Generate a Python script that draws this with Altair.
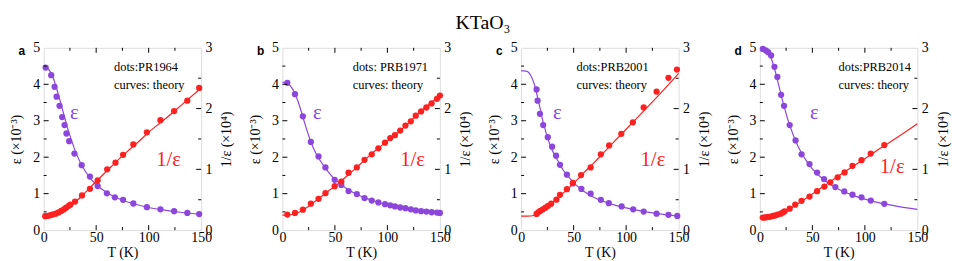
import altair as alt
import pandas as pd

PURPLE = "#8c46dc"
RED = "#ff2020"
W, H = 159, 184

# ---------------- data ----------------
# common grid for theory curves
curve_T = [0, 3, 6, 9, 12, 15, 18, 21, 24, 27, 30, 35, 40, 45, 50, 60, 70, 80, 90, 100, 115, 130, 150]

# panel a : PR1964
a_eps_dot_T = [1.9, 7.2, 10.4, 12.3, 15.1, 17.6, 19.9, 21.7, 24.3, 29.3, 36.2, 44.1, 51.4, 60.2, 67.8, 75.6, 85.4, 98.3, 111.2, 124.2, 136.8, 148.1]
a_eps_dot = [4.46, 4.25, 3.93, 3.66, 3.41, 3.10, 2.88, 2.65, 2.44, 2.10, 1.78, 1.47, 1.21, 1.01, 0.90, 0.83, 0.73, 0.63, 0.57, 0.52, 0.47, 0.44]
a_inv_dot_T = [1.5, 4.1, 6.6, 9.1, 11.6, 14.2, 16.7, 19.2, 21.4, 23.9, 25.5, 29.9, 36.5, 44.1, 51.4, 60.5, 68.4, 75.6, 85.4, 98.3, 111.2, 124.2, 136.8, 148.1]
a_inv_dot = [0.23, 0.235, 0.245, 0.26, 0.27, 0.29, 0.315, 0.34, 0.37, 0.40, 0.42, 0.47, 0.57, 0.68, 0.82, 1.00, 1.11, 1.24, 1.41, 1.61, 1.81, 1.96, 2.13, 2.34]
a_eps_curve = [4.47, 4.45, 4.36, 4.18, 3.92, 3.62, 3.30, 2.98, 2.68, 2.42, 2.18, 1.85, 1.60, 1.40, 1.25, 1.03, 0.88, 0.77, 0.69, 0.62, 0.55, 0.49, 0.43]
a_inv_curve = [0.224, 0.225, 0.229, 0.239, 0.255, 0.276, 0.303, 0.336, 0.373, 0.413, 0.459, 0.54, 0.625, 0.714, 0.80, 0.97, 1.14, 1.30, 1.45, 1.61, 1.82, 2.04, 2.34]

# panel b : PRB1971
b_dot_T = [4.7, 12.0, 19.5, 27.1, 34.4, 41.0, 49.8, 56.1, 63.0, 70.9, 78.2, 85.1, 91.4, 97.7, 102.7, 107.2, 112.2, 117.2, 122.3, 127.0, 132.1, 137.1, 142.1, 147.2, 150.0]
b_eps_dot = [4.04, 3.73, 3.12, 2.42, 2.02, 1.72, 1.38, 1.24, 1.07, 0.99, 0.88, 0.81, 0.76, 0.71, 0.68, 0.65, 0.62, 0.60, 0.57, 0.54, 0.52, 0.51, 0.49, 0.48, 0.47]
b_inv_dot = [0.255, 0.282, 0.336, 0.434, 0.515, 0.608, 0.722, 0.798, 0.944, 1.031, 1.156, 1.248, 1.346, 1.438, 1.514, 1.563, 1.639, 1.720, 1.791, 1.883, 1.953, 2.018, 2.084, 2.160, 2.214]
b_eps_curve = [4.05, 4.05, 4.00, 3.90, 3.75, 3.52, 3.25, 2.96, 2.68, 2.43, 2.22, 1.95, 1.74, 1.55, 1.39, 1.16, 0.99, 0.87, 0.77, 0.70, 0.61, 0.54, 0.47]
b_inv_curve = [0.247, 0.247, 0.25, 0.257, 0.275, 0.29, 0.315, 0.345, 0.38, 0.42, 0.46, 0.525, 0.59, 0.66, 0.72, 0.87, 1.02, 1.18, 1.33, 1.47, 1.68, 1.93, 2.21]

# panel c : PRB2001
c_dot_T = [14.7, 15.7, 17.9, 21.0, 25.4, 29.5, 33.3, 37.0, 43.6, 49.3, 57.4, 66.2, 75.9, 83.5, 95.7, 106.7, 116.7, 129.0, 140.3, 148.7]
c_eps_dot = [3.86, 3.55, 3.19, 2.88, 2.55, 2.29, 2.04, 1.79, 1.52, 1.28, 1.13, 1.00, 0.83, 0.74, 0.65, 0.57, 0.51, 0.45, 0.42, 0.39]
c_inv_dot_T = [14.7, 16.3, 18.2, 20.7, 23.2, 25.7, 28.6, 33.6, 37.0, 43.6, 49.3, 57.1, 66.2, 75.9, 83.8, 95.4, 106.4, 116.7, 129.0, 140.3, 148.4]
c_inv_dot = [0.266, 0.293, 0.315, 0.342, 0.369, 0.40, 0.434, 0.50, 0.58, 0.673, 0.776, 0.906, 1.031, 1.248, 1.394, 1.584, 1.774, 2.018, 2.279, 2.507, 2.642]
c_curve_T = [0, 3, 6, 9, 12, 14, 16, 18, 20, 22, 25, 28, 32, 36, 40, 45, 50, 60, 70, 80, 90, 100, 115, 130, 150]
c_eps_curve = [4.37, 4.37, 4.35, 4.25, 4.05, 3.85, 3.60, 3.35, 3.08, 2.85, 2.55, 2.30, 2.05, 1.85, 1.65, 1.47, 1.30, 1.06, 0.89, 0.77, 0.68, 0.61, 0.52, 0.45, 0.38]
c_inv_curve = [0.23, 0.23, 0.23, 0.232, 0.24, 0.255, 0.275, 0.30, 0.325, 0.35, 0.39, 0.43, 0.49, 0.55, 0.61, 0.69, 0.77, 0.95, 1.12, 1.30, 1.48, 1.66, 1.93, 2.20, 2.58]

# panel d : PRB2014
d_eps_dot_T = [2.8, 5.7, 7.9, 10.7, 13.9, 16.7, 20.2, 23.0, 28.4, 34.0, 39.7, 47.3, 54.5, 61.1, 71.9, 80.4, 88.2, 96.8, 105.6, 118.5]
d_eps_dot = [4.97, 4.93, 4.88, 4.79, 4.48, 4.20, 3.71, 3.41, 2.88, 2.46, 2.08, 1.81, 1.58, 1.40, 1.18, 1.06, 0.97, 0.90, 0.81, 0.72]
d_inv_dot_T = [2.8, 4.7, 6.3, 8.2, 10.4, 12.6, 14.8, 17.0, 19.9, 22.1, 23.6, 28.4, 33.7, 39.7, 47.3, 54.5, 61.5, 67.1, 74.1, 80.7, 88.2, 96.8, 105.6, 118.5]
d_inv_dot = [0.206, 0.206, 0.212, 0.217, 0.222, 0.233, 0.244, 0.255, 0.271, 0.293, 0.309, 0.353, 0.418, 0.483, 0.553, 0.640, 0.716, 0.787, 0.868, 0.950, 1.058, 1.150, 1.259, 1.40]
d_eps_curve = [5.0, 4.98, 4.93, 4.83, 4.62, 4.32, 3.97, 3.62, 3.30, 3.00, 2.75, 2.38, 2.10, 1.87, 1.68, 1.40, 1.20, 1.05, 0.94, 0.85, 0.74, 0.66, 0.57]
d_inv_curve = [0.20, 0.20, 0.203, 0.207, 0.217, 0.232, 0.252, 0.276, 0.303, 0.333, 0.364, 0.42, 0.476, 0.535, 0.595, 0.714, 0.833, 0.952, 1.064, 1.176, 1.35, 1.515, 1.75]

letters = ["a", "b", "c", "d"]
sources = ["dots:PR1964", "dots: PRB1971", "dots:PRB2001", "dots:PRB2014"]
note2 = "curves: theory"
note_T = [67, 67, 52.7, 75]
note_e = [4.48, 3.98]
eps_lbl_T = [29.3, 33.4, 34.5, 52]
eps_lbl_e = [3.2, 3.2, 3.2, 3.2]
inv_lbl_T = [119, 124, 125.5, 126]
inv_lbl_e = [1.92, 1.92, 1.92, 1.72]

# tick positions
x_major = [50, 100]
x_minor = [25, 75, 125]
yl_major = [1, 2, 3, 4]
yl_minor = [0.5, 1.5, 2.5, 3.5, 4.5]
yr_major = [1, 2]
yr_minor = [0.5, 1.5, 2.5]

SERIF = "Liberation Serif, Times New Roman, serif"
SANS = "Liberation Sans, Arial, sans-serif"

X = alt.X("T:Q", scale=alt.Scale(domain=[0, 150], nice=False, zero=False),
          axis=alt.Axis(values=[0, 50, 100, 150], ticks=False, domain=False, grid=False,
                        labelFont=SERIF, labelFontSize=14, labelColor="black", labelFlush=False,
                        labelPadding=1, labelOverlap=False,
                        title="T (K)", titleFont=SERIF, titleFontSize=14, titleFontWeight="normal",
                        titleColor="black", titlePadding=1))
YE = alt.Y("e:Q", scale=alt.Scale(domain=[0, 5], nice=False),
           axis=alt.Axis(values=[0, 1, 2, 3, 4, 5], ticks=False, domain=False, grid=False, orient="left",
                         labelFont=SERIF, labelFontSize=14, labelColor="black", labelFlush=False,
                         labelPadding=4, labelOverlap=False,
                         title="ε (×10⁻³)", titleFont=SERIF, titleFontSize=14, titleFontWeight="normal",
                         titleColor="black", titlePadding=9))
YV = alt.Y("v:Q", scale=alt.Scale(domain=[0, 3], nice=False),
           axis=alt.Axis(values=[0, 1, 2, 3], ticks=False, domain=False, grid=False, orient="right",
                         labelFont=SERIF, labelFontSize=14, labelColor="black", labelFlush=False,
                         labelPadding=4, labelOverlap=False,
                         title="1/ε (×10⁴)", titleFont=SERIF, titleFontSize=14, titleFontWeight="normal",
                         titleColor="black", titlePadding=8, titleAngle=270, titleBaseline="top"))


def tick_layers():
    xM = pd.DataFrame({"T": x_major})
    xm = pd.DataFrame({"T": x_minor})
    lM = pd.DataFrame({"e": yl_major})
    lm = pd.DataFrame({"e": yl_minor})
    layers = []
    for df, ln in ((xM, 5), (xm, 3)):
        layers.append(alt.Chart(df).mark_rule(color="black", strokeWidth=1).encode(
            x=X, y=alt.value(H), y2=alt.value(H - ln)))
        layers.append(alt.Chart(df).mark_rule(color="black", strokeWidth=1).encode(
            x=X, y=alt.value(0), y2=alt.value(ln)))
    for df, ln in ((lM, 5), (lm, 3)):
        layers.append(alt.Chart(df).mark_rule(color="black", strokeWidth=1).encode(
            y=YE, x=alt.value(0), x2=alt.value(ln)))
    return layers


def right_ticks():
    rM = pd.DataFrame({"v": yr_major})
    rm = pd.DataFrame({"v": yr_minor})
    out = []
    for df, ln in ((rM, 5), (rm, 3)):
        out.append(alt.Chart(df).mark_rule(color="black", strokeWidth=1).encode(
            y=YV, x=alt.value(W), x2=alt.value(W - ln)))
    return out


def panel(i, eT, e, eCT, eC, vT, v, vCT, vC):
    eps_dots = pd.DataFrame({"T": eT, "e": e})
    eps_curve = pd.DataFrame({"T": eCT, "e": eC})
    inv_dots = pd.DataFrame({"T": vT, "v": v})
    inv_curve = pd.DataFrame({"T": vCT, "v": vC})
    notes = pd.DataFrame({"T": [note_T[i], note_T[i]], "e": note_e, "txt": [sources[i], note2]})
    eps_lbl = pd.DataFrame({"T": [eps_lbl_T[i]], "e": [eps_lbl_e[i]], "txt": ["ε"]})
    inv_lbl = pd.DataFrame({"T": [inv_lbl_T[i]], "e": [inv_lbl_e[i]], "txt": ["1/ε"]})
    letter = pd.DataFrame({"txt": [letters[i]]})

    purple = alt.layer(
        alt.Chart(eps_curve).mark_line(color=PURPLE, strokeWidth=1.2, interpolate="monotone").encode(x=X, y=YE),
        alt.Chart(eps_dots).mark_circle(color=PURPLE, size=40, opacity=1).encode(x=X, y=YE),
        alt.Chart(notes).mark_text(align="left", baseline="middle", font=SERIF, fontSize=12.5, color="black").encode(
            x=X, y=YE, text="txt:N"),
        alt.Chart(eps_lbl).mark_text(align="center", baseline="middle", font=SERIF, fontSize=21, color=PURPLE).encode(
            x=X, y=YE, text="txt:N"),
        alt.Chart(inv_lbl).mark_text(align="center", baseline="middle", font=SERIF, fontSize=21, color=RED).encode(
            x=X, y=YE, text="txt:N"),
        alt.Chart(letter).mark_text(align="center", baseline="middle", font=SANS, fontWeight="bold",
                                    fontSize=12, color="black").encode(
            x=alt.value(-22), y=alt.value(3), text="txt:N"),
        *tick_layers(),
    )
    red = alt.layer(
        alt.Chart(inv_curve).mark_line(color=RED, strokeWidth=1.2, interpolate="monotone").encode(x=X, y=YV),
        alt.Chart(inv_dots).mark_circle(color=RED, size=40, opacity=1).encode(x=X, y=YV),
        *right_ticks(),
    )
    return alt.layer(purple, red).resolve_scale(y="independent").properties(width=W, height=H)


pa = panel(0, a_eps_dot_T, a_eps_dot, curve_T, a_eps_curve, a_inv_dot_T, a_inv_dot, curve_T, a_inv_curve)
pb = panel(1, b_dot_T, b_eps_dot, curve_T, b_eps_curve, b_dot_T, b_inv_dot, curve_T, b_inv_curve)
pc = panel(2, c_dot_T, c_eps_dot, c_curve_T, c_eps_curve, c_inv_dot_T, c_inv_dot, c_curve_T, c_inv_curve)
pdd = panel(3, d_eps_dot_T, d_eps_dot, curve_T, d_eps_curve, d_inv_dot_T, d_inv_dot, curve_T, d_inv_curve)

chart = alt.hconcat(pa, pb, pc, pdd, spacing=82, bounds="flush").properties(
    title=alt.TitleParams("KTaO₃", font=SERIF, fontSize=20, fontWeight="normal", color="black",
                          anchor="middle", offset=8, dx=3),
    padding={"left": 1, "top": 3, "right": 5, "bottom": 2},
).configure_view(stroke="black", strokeWidth=1).configure(font=SERIF).configure_axis(
    labelFont=SERIF, titleFont=SERIF)

chart.save("out.html", embed_options={"renderer": "svg", "actions": False})
